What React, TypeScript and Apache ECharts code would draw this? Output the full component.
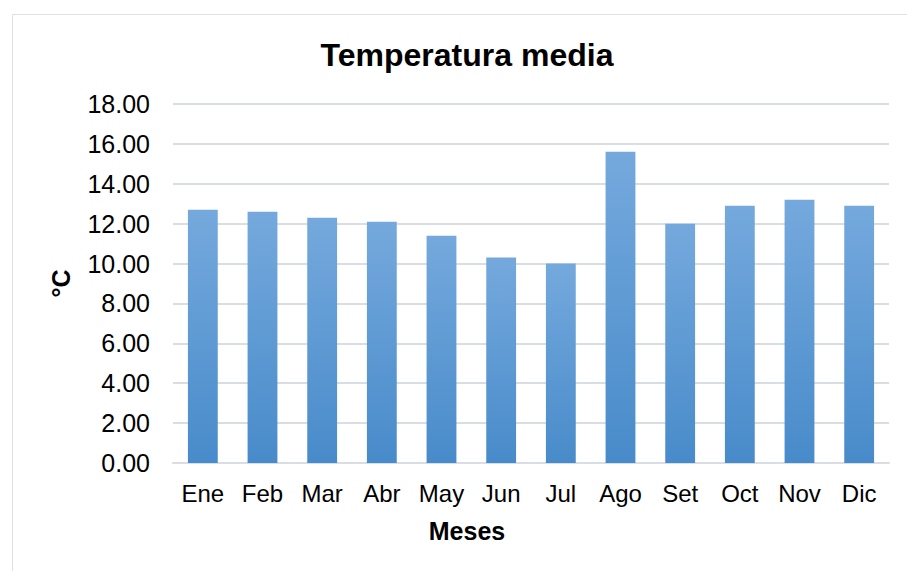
import React, { useEffect, useRef } from "react";
import * as echarts from "echarts";

const categories = ["Ene", "Feb", "Mar", "Abr", "May", "Jun", "Jul", "Ago", "Set", "Oct", "Nov", "Dic"];
const temperatures = [12.7, 12.6, 12.3, 12.1, 11.4, 10.3, 10.0, 15.6, 12.0, 12.9, 13.2, 12.9];
const titleText = "Temperatura media";
const xAxisName = "Meses";
const yAxisName = "°C";

export default function App() {
  const ref = useRef<HTMLDivElement>(null);
  useEffect(() => {
    document.body.style.margin = "0";
    const chart = echarts.init(ref.current!, null, { renderer: "svg" });
    const font = "Liberation Sans, Arial, sans-serif";
    chart.setOption({
      animation: false,
      backgroundColor: "#ffffff",
      title: {
        text: titleText,
        left: 462,
        top: 34,
        textAlign: "center",
        textStyle: { fontFamily: font, fontSize: 32, fontWeight: "bold", color: "#000" },
      },
      graphic: [
        {
          type: "rect",
          shape: { x: 12.5, y: 14.5, width: 910, height: 570 },
          style: { fill: "none", stroke: "#dde1e6", lineWidth: 1 },
          silent: true,
        },
        {
          type: "text",
          x: 467,
          y: 531,
          style: {
            text: xAxisName,
            fontFamily: font,
            fontSize: 25,
            fontWeight: "bold",
            fill: "#000",
            align: "center",
            verticalAlign: "middle",
          },
          silent: true,
        },
      ],
      grid: { left: 173, right: 18, top: 104, bottom: 108 },
      xAxis: {
        type: "category",
        data: categories,
        axisLine: { show: true, lineStyle: { color: "#d9dde4", width: 2 } },
        axisTick: { show: false },
        axisLabel: { fontFamily: font, fontSize: 24, color: "#000", margin: 18, interval: 0 },
      },
      yAxis: {
        type: "value",
        min: 0,
        max: 18,
        interval: 2,
        name: yAxisName,
        nameLocation: "middle",
        nameGap: 100,
        nameRotate: 90,
        nameTextStyle: { fontFamily: font, fontSize: 25, fontWeight: "bold", color: "#000" },
        axisLine: { show: false },
        axisTick: { show: false },
        axisLabel: {
          fontFamily: font,
          fontSize: 25,
          color: "#000",
          margin: 23,
          formatter: (v: number) => v.toFixed(2),
        },
        splitLine: { lineStyle: { color: "#d9dde4", width: 2 } },
      },
      series: [
        {
          type: "bar",
          data: temperatures,
          barCategoryGap: "50%",
          itemStyle: {
            color: new echarts.graphic.LinearGradient(0, 0, 0, 1, [
              { offset: 0, color: "#75a9dd" },
              { offset: 1, color: "#488bca" },
            ], false),
          },
        },
      ],
    });
    return () => chart.dispose();
  }, []);
  return <div ref={ref} style={{ width: 907, height: 571 }} />;
}
